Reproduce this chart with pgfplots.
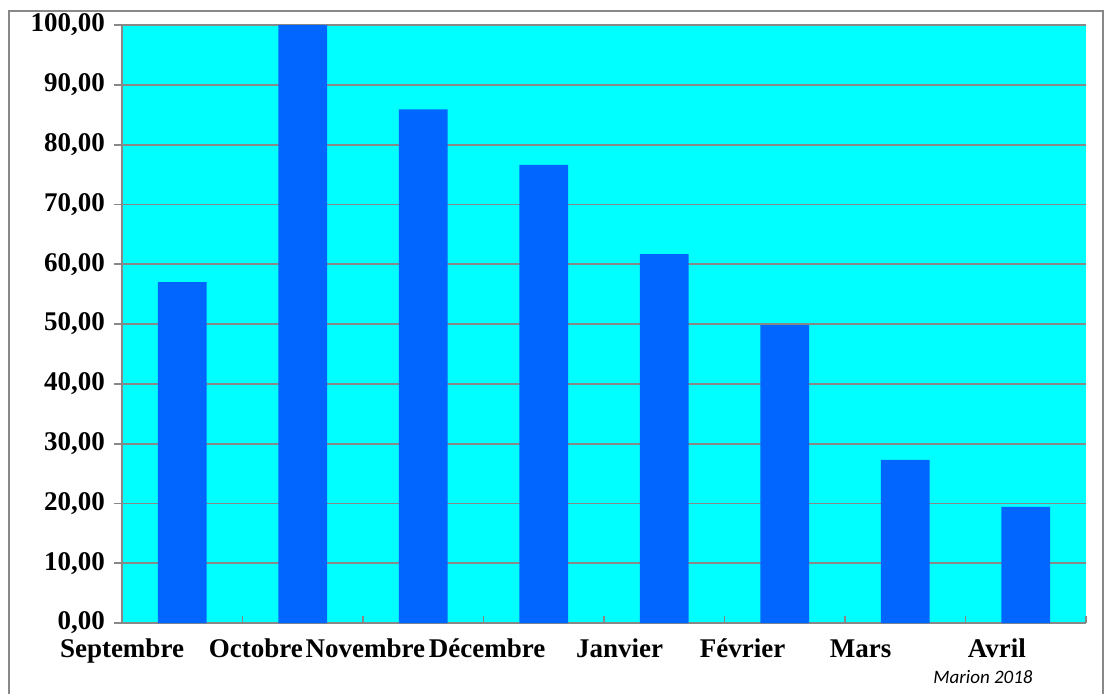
\documentclass[border=0pt]{standalone}
\usepackage{fontspec}
\setmainfont{Liberation Serif}
\newfontfamily\carlito{Carlito}
\usepackage{pgfplots}
\pgfplotsset{compat=1.18}
\definecolor{bgcyan}{HTML}{00FFFF}
\definecolor{barblue}{HTML}{0066FF}
\definecolor{gridgray}{HTML}{888888}

\begin{document}
\begin{tikzpicture}
\begin{axis}[
    name=ax,
    scale only axis,
    width=482pt, height=299pt,
    xmin=0.5, xmax=8.5,
    ymin=0, ymax=100,
    axis x line*=bottom,
    axis y line*=left,
    axis line style={gridgray, line width=1.2pt},
    axis background/.style={fill=bgcyan},
    ytick={0,10,...,100},
    ymajorgrids,
    major grid style={gridgray, line width=0.9pt},
    tick align=inside,
    y tick style={gridgray, line width=0.9pt, xshift=-4pt},
    major tick length=4pt,
    xtick={0.5,1.61,2.52,3.53,4.63,5.65,6.63,7.76},
    xticklabels={Septembre,Octobre,Novembre,Décembre,Janvier,Février,Mars,Avril},
    x tick style={draw=none},
    minor xtick={1.5,2.5,...,8.5},
    minor x tick style={draw=gridgray, line width=0.9pt},
    minor tick length=3.5pt,
    /pgf/number format/.cd, fixed, fixed zerofill, precision=2, use comma, 1000 sep={}, assume math mode=true,
    /pgfplots/.cd,
    yticklabel style={font=\bfseries\fontsize{13.5}{13.5}\selectfont, xshift=-5pt},
    xticklabel style={font=\bfseries\fontsize{13.5}{13.5}\selectfont, anchor=base, yshift=-17pt},
    clip=false,
]
\addplot[ybar, bar width=0.405, fill=barblue, draw=none] coordinates {
    (1,57.0) (2,100.0) (3,85.9) (4,76.6) (5,61.7) (6,49.8) (7,27.3) (8,19.4)
};
\end{axis}
\begin{scope}[shift={(ax.south west)}]
\draw[overlay, gridgray, line width=0.9pt] (-56.5pt,-45pt) rectangle (490.5pt,306pt);
\node[font=\carlito\itshape\fontsize{9.5}{9.5}\selectfont] at (430.5pt,-27pt) {Marion 2018};
\pgfresetboundingbox
\useasboundingbox (-61pt,-35pt) rectangle (493.5pt,311.5pt);
\end{scope}
\end{tikzpicture}
\end{document}
